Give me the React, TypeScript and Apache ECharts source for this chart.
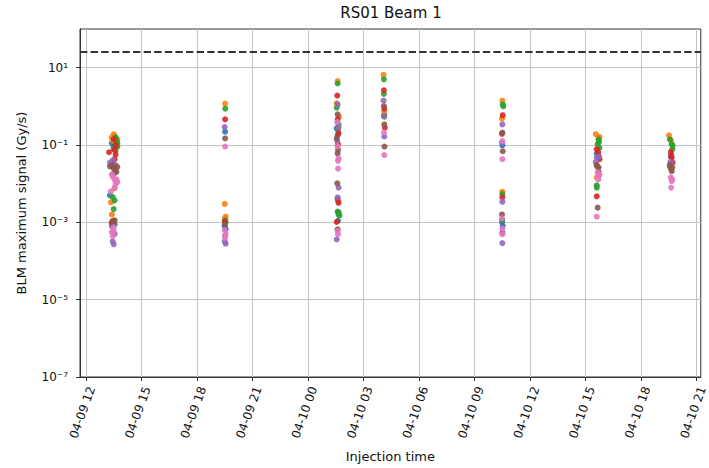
import React, { useEffect, useRef } from "react";
import * as echarts from "echarts";

const TITLE = "RS01 Beam 1";
const X_NAME = "Injection time";
const Y_NAME = "BLM maximum signal (Gy/s)";

// x: hours since 04-09 00:00
const X_MIN = 11.68;
const X_MAX = 45.22;
const xTickHours = [12, 15, 18, 21, 24, 27, 30, 33, 36, 39, 42, 45];
// y: log10 of the signal
const Y_MIN_EXP = -7;
const Y_MAX_EXP = 2;
const yTickExponents = [-7, -5, -3, -1, 1];
const thresholdValue = 25;

const seriesNames = ["BLM 1", "BLM 2", "BLM 3", "BLM 4", "BLM 5", "BLM 6", "BLM 7"];
const seriesColors = ["#1f77b4", "#ff7f0e", "#2ca02c", "#d62728", "#9467bd", "#8c564b", "#e377c2"];

// [hour, signal Gy/s]
const blm1 = [
  [13.4, 0.112], [13.5, 0.089], [13.3, 0.005], [13.45, 0.0011], [13.55, 0.00089],
  [19.52, 0.22], [19.5, 0.00079], [19.55, 0.00066],
  [25.55, 0.27], [25.6, 0.178], [25.65, 0.0018], [25.62, 0.0011],
  [28.12, 0.6],
  [34.5, 0.098], [34.48, 0.00102], [34.52, 0.00081],
  [39.6, 0.06],
  [43.6, 0.05],
];
const blm2 = [
  [13.5, 0.19], [13.4, 0.158], [13.6, 0.126], [13.65, 0.1], [13.55, 0.17], [13.7, 0.14], [13.45, 0.13],
  [13.55, 0.0076], [13.35, 0.0033], [13.4, 0.0016], [13.5, 0.00112],
  [19.52, 1.17], [19.5, 0.003], [19.55, 0.0014], [19.52, 0.00126],
  [25.6, 4.5], [25.55, 1.2], [25.68, 0.54], [25.62, 0.0035],
  [28.08, 6.5], [28.12, 0.72],
  [34.5, 1.4], [34.48, 0.48], [34.5, 0.0062],
  [39.55, 0.19], [39.7, 0.148], [39.75, 0.16], [39.6, 0.0145],
  [43.5, 0.178], [43.6, 0.132],
];
const blm3 = [
  [13.6, 0.158], [13.7, 0.112], [13.5, 0.079], [13.65, 0.13], [13.7, 0.09], [13.6, 0.07],
  [13.45, 0.0045], [13.55, 0.0037], [13.5, 0.0022], [13.4, 0.001],
  [19.53, 0.87], [19.52, 0.00112], [19.55, 0.001],
  [25.6, 3.9], [25.55, 0.93], [25.65, 0.34], [25.62, 0.24], [25.6, 0.0019], [25.65, 0.0016], [25.7, 0.0015],
  [28.1, 5.0], [28.1, 2.1], [28.12, 0.54],
  [34.52, 1.12], [34.55, 1.0], [34.5, 0.00115], [34.5, 0.0054],
  [39.7, 0.138], [39.65, 0.105], [39.75, 0.085], [39.72, 0.12], [39.6, 0.0091], [39.6, 0.0079],
  [43.55, 0.141], [43.65, 0.105], [43.68, 0.078], [43.7, 0.095],
];
const blm4 = [
  [13.5, 0.141], [13.25, 0.065], [13.6, 0.056], [13.55, 0.043], [13.62, 0.1], [13.55, 0.075],
  [13.45, 0.00105], [13.4, 0.00095],
  [19.52, 0.46], [19.5, 0.00105],
  [25.58, 1.9], [25.6, 0.46], [25.65, 0.2], [25.62, 0.105], [25.6, 0.004], [25.65, 0.0032], [25.55, 0.00102],
  [28.1, 2.6], [28.12, 0.87], [28.15, 0.28],
  [34.52, 0.59], [34.48, 0.195], [34.5, 0.0044],
  [39.6, 0.078], [39.7, 0.052], [39.75, 0.043], [39.68, 0.065], [39.6, 0.0047],
  [43.6, 0.066], [43.65, 0.047], [43.7, 0.035], [43.62, 0.055],
];
const blm5 = [
  [13.3, 0.035], [13.5, 0.032], [13.45, 0.04], [13.6, 0.03],
  [13.4, 0.00079], [13.45, 0.00032], [13.5, 0.00027], [13.55, 0.0005],
  [19.5, 0.29], [19.52, 0.00045], [19.5, 0.00032], [19.55, 0.00028],
  [25.6, 1.12], [25.65, 0.28], [25.58, 0.126], [25.65, 0.0079], [25.6, 0.0044], [25.55, 0.00036],
  [28.08, 1.4], [28.1, 0.56], [28.12, 0.166],
  [34.5, 0.34], [34.48, 0.115], [34.5, 0.0034], [34.5, 0.00029],
  [39.6, 0.047], [39.55, 0.036], [39.7, 0.05],
  [43.58, 0.036], [43.55, 0.028],
];
const blm6 = [
  [13.3, 0.028], [13.5, 0.025], [13.65, 0.02], [13.4, 0.03], [13.6, 0.022], [13.7, 0.027], [13.5, 0.018],
  [13.55, 0.00112], [13.45, 0.00089], [13.5, 0.001],
  [19.52, 0.148], [19.5, 0.00089],
  [25.6, 0.62], [25.55, 0.148], [25.62, 0.074], [25.6, 0.06], [25.58, 0.0102], [25.6, 0.00066],
  [28.1, 1.02], [28.12, 0.34], [28.13, 0.091],
  [34.5, 0.21], [34.52, 0.069], [34.48, 0.0016], [34.5, 0.00054],
  [39.6, 0.03], [39.7, 0.026], [39.65, 0.0024], [39.7, 0.02], [39.62, 0.028],
  [43.6, 0.0245], [43.65, 0.021], [43.55, 0.03], [43.68, 0.026],
];
const blm7 = [
  [13.4, 0.0174], [13.55, 0.0126], [13.6, 0.01], [13.35, 0.0063], [13.45, 0.015], [13.65, 0.013], [13.7, 0.011], [13.55, 0.008],
  [13.5, 0.00074], [13.4, 0.00056], [13.45, 0.00044], [13.5, 0.0006],
  [19.52, 0.091], [19.5, 0.00063], [19.55, 0.0005], [19.52, 0.0004],
  [25.58, 0.39], [25.6, 0.093], [25.65, 0.045], [25.62, 0.039], [25.62, 0.0245], [25.6, 0.0006], [25.62, 0.00049],
  [28.1, 0.21], [28.12, 0.055],
  [34.5, 0.126], [34.5, 0.043], [34.48, 0.00126], [34.5, 0.00069], [34.5, 0.00049],
  [39.65, 0.0195], [39.7, 0.0158], [39.68, 0.0129], [39.75, 0.017], [39.6, 0.0014],
  [43.6, 0.0145], [43.65, 0.0117], [43.62, 0.0079], [43.68, 0.013],
];
const allSeries = [blm1, blm2, blm3, blm4, blm5, blm6, blm7];

const FONT = "DejaVu Sans";
const SUP: Record<string, string> = {
  "-": "\u207b", "0": "\u2070", "1": "\u00b9", "2": "\u00b2", "3": "\u00b3",
  "4": "\u2074", "5": "\u2075", "6": "\u2076", "7": "\u2077", "8": "\u2078", "9": "\u2079",
};
const supText = (n: number) => String(n).split("").map((c) => SUP[c] || c).join("");
const fmtHour = (h: number) => {
  const hr = Math.round(h);
  const day = hr < 24 ? "04-09" : "04-10";
  return `${day} ${String(hr % 24).padStart(2, "0")}`;
};

export default function App() {
  const ref = useRef<HTMLDivElement>(null);
  useEffect(() => {
    if (!ref.current) return;
    const chart = echarts.init(ref.current, undefined, { renderer: "svg" });
    const series: any[] = allSeries.map((pts, i) => ({
      name: seriesNames[i],
      type: "scatter",
      symbolSize: 6,
      itemStyle: { color: seriesColors[i], opacity: 0.9 },
      data: pts.map(([t, v]) => [t, Math.log10(v)]),
      z: 3,
    }));
    series[0].markLine = {
      silent: true,
      symbol: "none",
      label: { show: false },
      lineStyle: { type: [7.4, 3.2], color: "#333", width: 2 },
      data: [{ yAxis: Math.log10(thresholdValue) }],
    };
    chart.setOption({
      animation: false,
      backgroundColor: "#fff",
      textStyle: { fontFamily: FONT },
      title: {
        text: TITLE,
        left: 391,
        textAlign: "center",
        top: 5,
        padding: 0,
        textStyle: { fontFamily: FONT, fontSize: 15, fontWeight: "normal", color: "#111" },
      },
      grid: {
        left: 80, right: 6, top: 29, bottom: 90,
        show: true, borderColor: "#333", borderWidth: 1, backgroundColor: "transparent",
      },
      xAxis: {
        type: "value",
        min: X_MIN,
        max: X_MAX,
        name: X_NAME,
        nameLocation: "middle",
        nameGap: 73,
        nameMoveOverlap: false,
        nameTextStyle: { fontFamily: FONT, fontSize: 13, color: "#111" },
        axisLine: { show: true, onZero: false, lineStyle: { color: "#333", width: 1 } },
        axisTick: { show: true, length: 4, customValues: xTickHours, lineStyle: { color: "#333" } },
        axisLabel: {
          customValues: xTickHours,
          formatter: (v: number) => fmtHour(v),
          rotate: 70,
          verticalAlign: "top",
          margin: 8,
          fontFamily: FONT,
          fontSize: 12,
          color: "#111",
        },
        splitLine: { show: true, lineStyle: { color: "#c4c4c4", width: 1 } },
      },
      yAxis: {
        type: "value",
        min: Y_MIN_EXP,
        max: Y_MAX_EXP,
        name: Y_NAME,
        nameLocation: "middle",
        nameRotate: 90,
        nameGap: 52,
        nameMoveOverlap: false,
        nameTextStyle: { fontFamily: FONT, fontSize: 13, color: "#111" },
        axisLine: { show: true, onZero: false, lineStyle: { color: "#333", width: 1 } },
        axisTick: { show: true, length: 4, customValues: yTickExponents, lineStyle: { color: "#333" } },
        axisLabel: {
          customValues: yTickExponents,
          formatter: (v: number) => "10" + supText(Math.round(v)),
          margin: 12,
          fontFamily: FONT,
          fontSize: 12,
          color: "#111",
        },
        splitLine: { show: true, lineStyle: { color: "#c4c4c4", width: 1 } },
      },
      series,
    });
    return () => chart.dispose();
  }, []);
  return (
    <div
      ref={ref}
      style={{ position: "fixed", left: 0, top: 0, width: 709, height: 468, background: "#fff" }}
    />
  );
}
